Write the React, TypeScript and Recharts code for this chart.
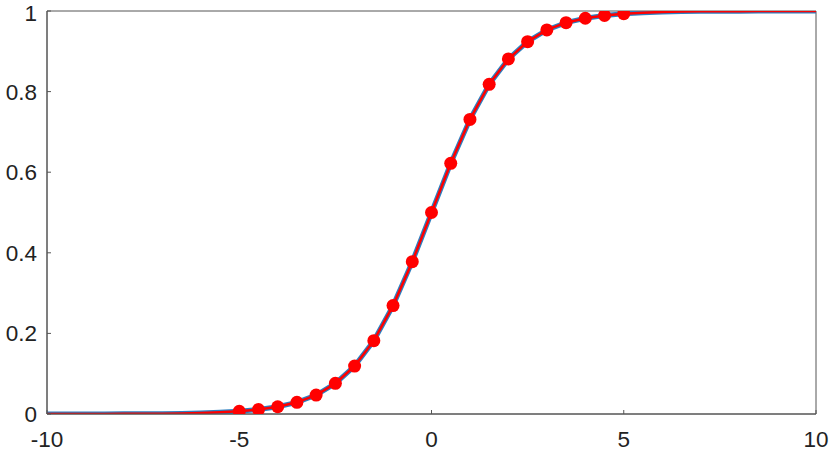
import { ComposedChart, Line, XAxis, YAxis, ReferenceArea } from "recharts";

// x positions (step 0.5) and sigmoid-shaped values
const xs = [
  -10, -9.5, -9, -8.5, -8, -7.5, -7, -6.5, -6, -5.5, -5, -4.5, -4, -3.5, -3, -2.5, -2, -1.5, -1, -0.5,
  0, 0.5, 1, 1.5, 2, 2.5, 3, 3.5, 4, 4.5, 5, 5.5, 6, 6.5, 7, 7.5, 8, 8.5, 9, 9.5, 10,
];

const blueCurve = [
  0.00005, 0.00008, 0.00012, 0.0002, 0.00034, 0.00055, 0.00091, 0.0015, 0.0025, 0.0041, 0.0067,
  0.011, 0.018, 0.029, 0.047, 0.076, 0.119, 0.182, 0.269, 0.378, 0.5, 0.622, 0.731, 0.818, 0.881,
  0.924, 0.953, 0.971, 0.982, 0.989, 0.9933, 0.9959, 0.9975, 0.9985, 0.9991, 0.99945, 0.99966,
  0.9998, 0.99988, 0.99992, 0.99995,
];

const redCurve = [
  0.00005, 0.00008, 0.00012, 0.0002, 0.00034, 0.00055, 0.00091, 0.0015, 0.0025, 0.0041, 0.0067,
  0.011, 0.018, 0.029, 0.047, 0.076, 0.119, 0.182, 0.269, 0.378, 0.5, 0.622, 0.731, 0.818, 0.881,
  0.924, 0.953, 0.971, 0.982, 0.989, 0.9933, 0.9959, 0.9975, 0.9985, 0.9991, 0.99945, 0.99966,
  0.9998, 0.99988, 0.99992, 0.99995,
];

// red markers only between -5 and 5
const markerX = [-5, -4.5, -4, -3.5, -3, -2.5, -2, -1.5, -1, -0.5, 0, 0.5, 1, 1.5, 2, 2.5, 3, 3.5, 4, 4.5, 5];
const markerY = [
  0.0067, 0.011, 0.018, 0.029, 0.047, 0.076, 0.119, 0.182, 0.269, 0.378, 0.5, 0.622, 0.731, 0.818,
  0.881, 0.924, 0.953, 0.971, 0.982, 0.989, 0.9933,
];

const xTicks = [-10, -5, 0, 5, 10];
const yTicks = [0, 0.2, 0.4, 0.6, 0.8, 1];
const yTickLabels = ["0", "0.2", "0.4", "0.6", "0.8", "1"];

const data = xs.map((x, i) => {
  const m = markerX.indexOf(x);
  return { x, blue: blueCurve[i], red: redCurve[i], marker: m >= 0 ? markerY[m] : null };
});

const axisColor = "#555";
const tickFont = { fontFamily: "'Liberation Sans', Arial, sans-serif", fontSize: 22.5, fill: "#222" };
const noTick = () => <g />;

export default function App() {
  return (
    <div style={{ position: "absolute", left: 0, top: 0, width: 830, height: 453, background: "#fff" }}>
      <ComposedChart width={830} height={453} data={data} margin={{ top: 11, right: 14, left: 0, bottom: 0 }}>
        <XAxis
          dataKey="x"
          type="number"
          domain={[-10, 10]}
          ticks={xTicks}
          allowDataOverflow
          height={39}
          stroke={axisColor}
          tickSize={-4}
          tickMargin={21}
          tick={tickFont}
        />
        <XAxis
          xAxisId="top"
          dataKey="x"
          orientation="top"
          type="number"
          domain={[-10, 10]}
          ticks={xTicks}
          allowDataOverflow
          height={0}
          stroke={axisColor}
          tickSize={-4}
          tick={noTick}
        />
        <YAxis
          type="number"
          domain={[0, 1]}
          ticks={yTicks}
          allowDataOverflow
          width={47}
          stroke={axisColor}
          tickSize={-4}
          tickMargin={14}
          tick={tickFont}
          tickFormatter={(v: number) => yTickLabels[yTicks.indexOf(v)] ?? String(v)}
        />
        <YAxis
          yAxisId="right"
          orientation="right"
          type="number"
          domain={[0, 1]}
          ticks={yTicks}
          allowDataOverflow
          width={0}
          stroke={axisColor}
          tickSize={-4}
          tick={noTick}
        />
        <ReferenceArea x1={-10} x2={10} y1={0} y2={1} fill="none" stroke={axisColor} strokeWidth={1} ifOverflow="visible" />
        {/* invisible series tying the top and right frame axes to the data */}
        <Line
          xAxisId="top"
          yAxisId="right"
          dataKey="red"
          stroke="none"
          dot={false}
          activeDot={false}
          isAnimationActive={false}
        />
        <Line
          dataKey="blue"
          type="linear"
          stroke="#2c7fc0"
          strokeWidth={5}
          dot={false}
          isAnimationActive={false}
        />
        <Line
          dataKey="red"
          type="linear"
          stroke="#ff0000"
          strokeWidth={2.5}
          dot={false}
          isAnimationActive={false}
        />
        <Line
          dataKey="marker"
          type="linear"
          stroke="none"
          dot={{ r: 6.5, fill: "#ff0000", stroke: "#ff0000", strokeWidth: 0 }}
          activeDot={false}
          isAnimationActive={false}
        />
      </ComposedChart>
    </div>
  );
}
